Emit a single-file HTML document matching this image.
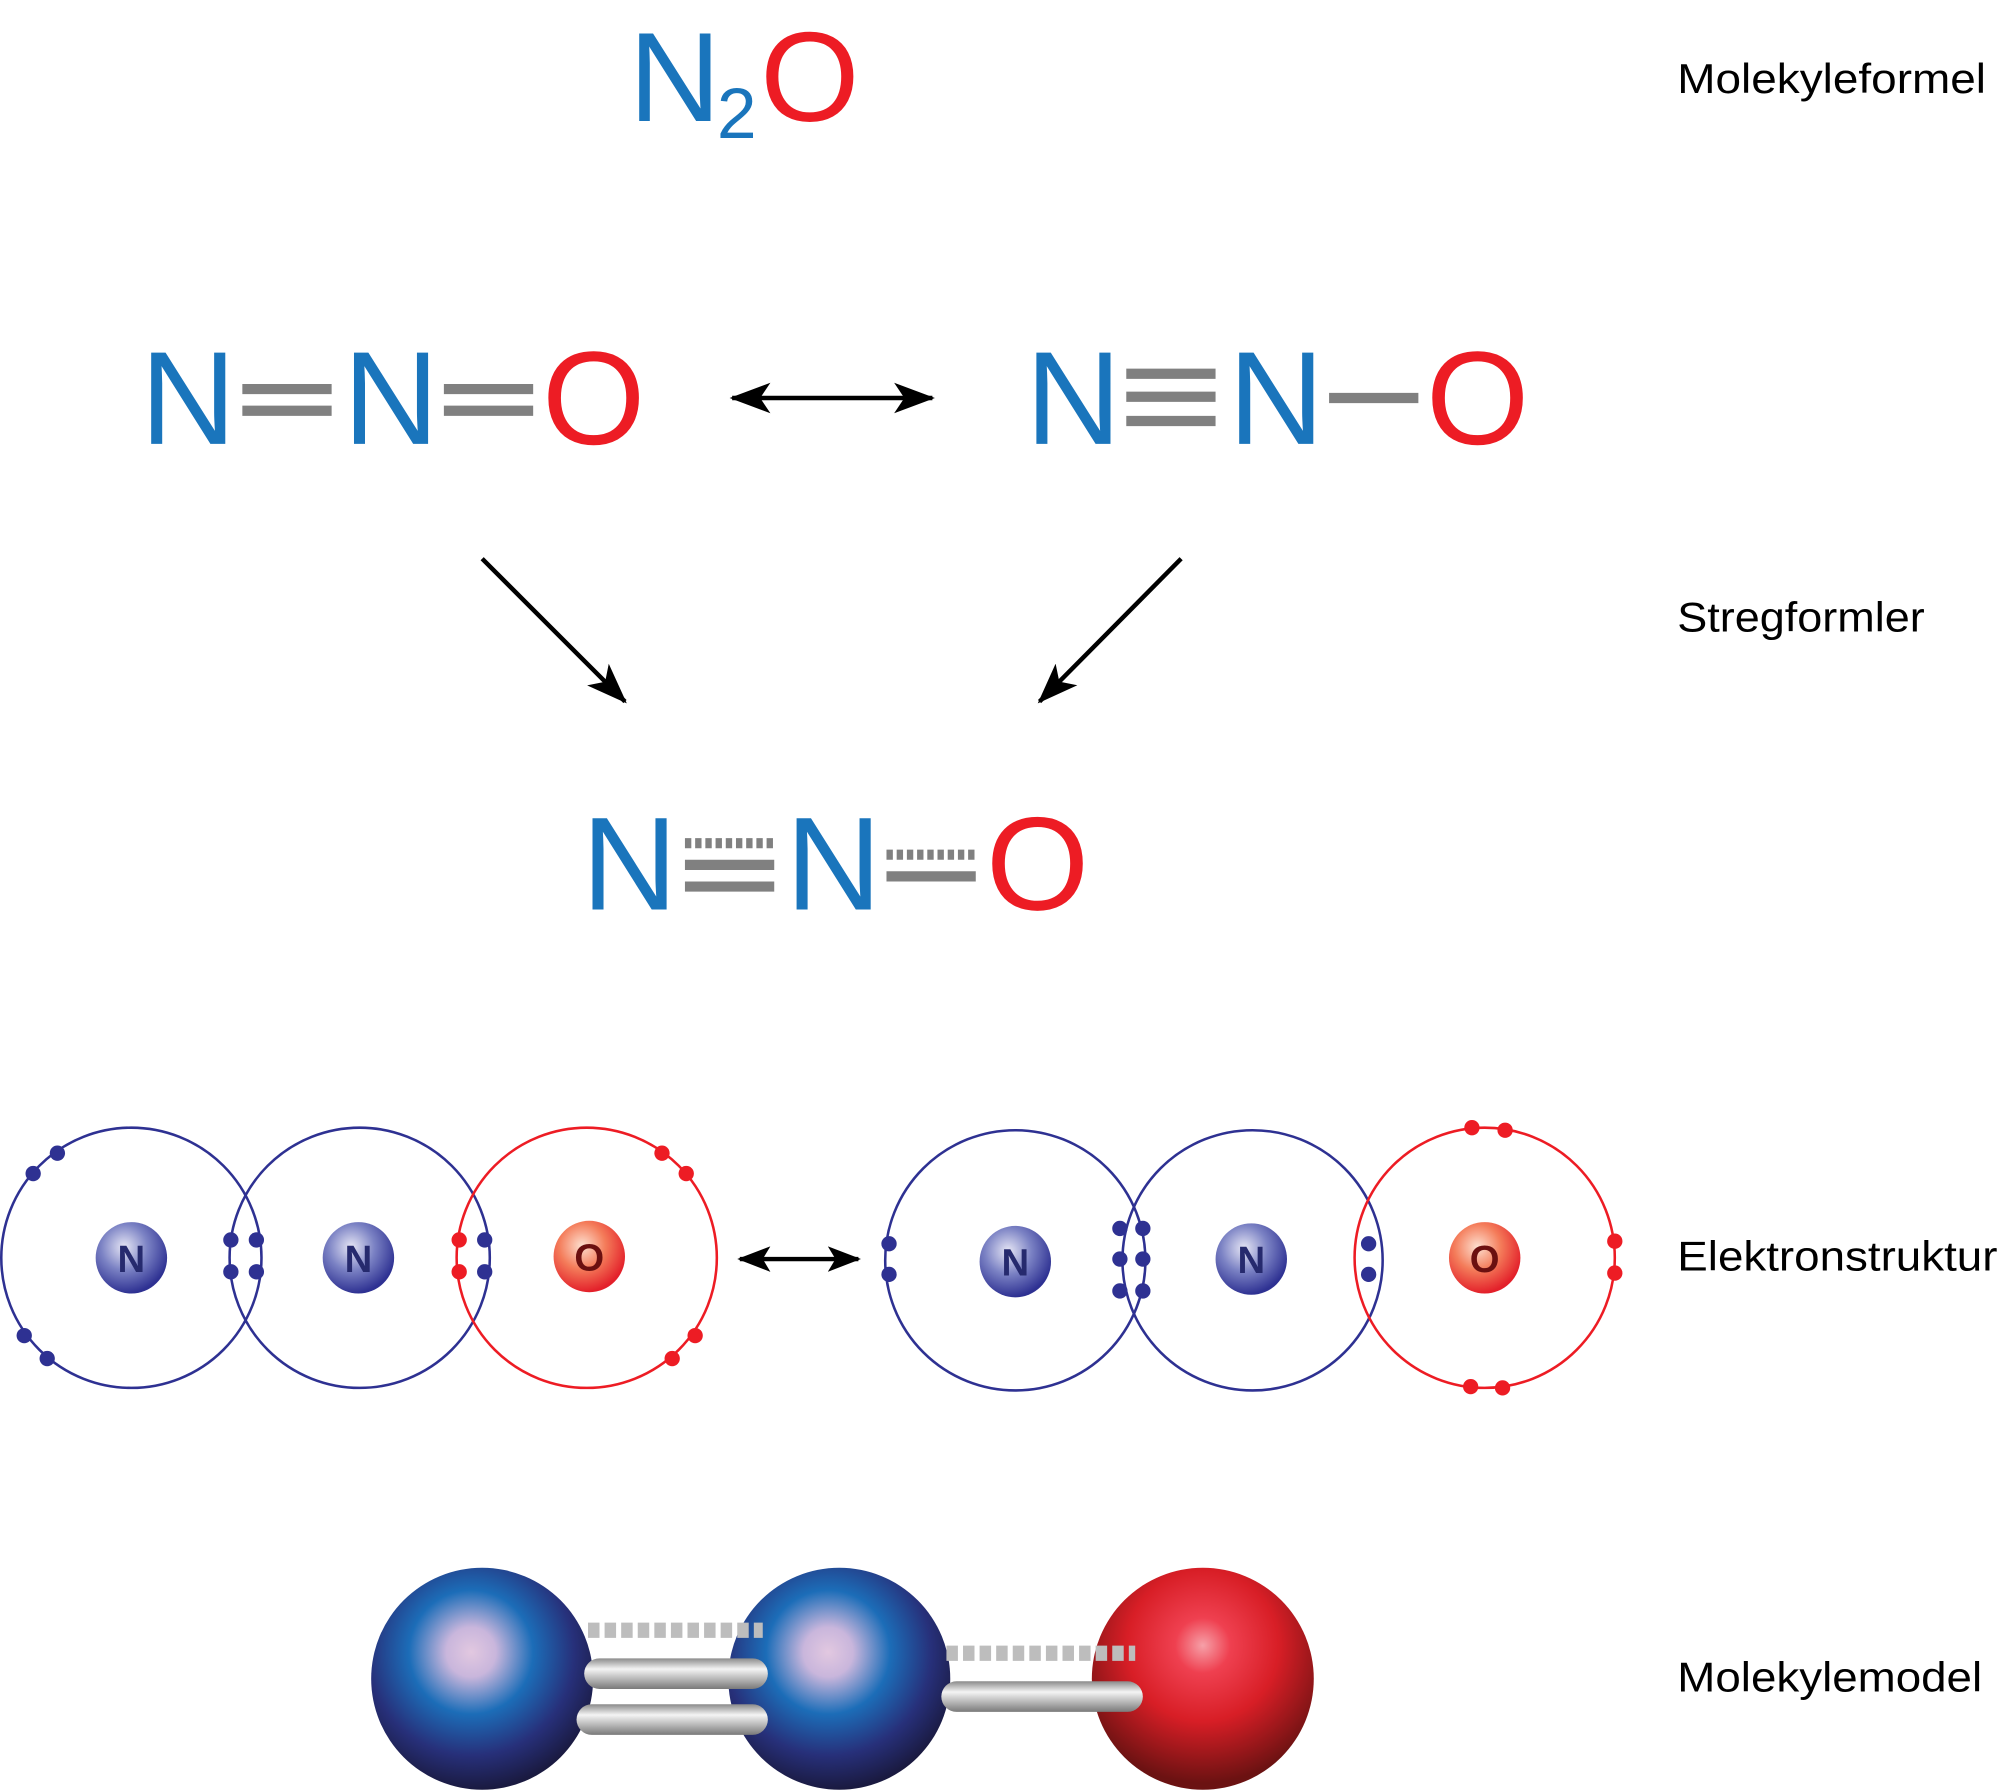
<!DOCTYPE html>
<html><head><meta charset="utf-8"><style>
html,body{margin:0;padding:0;background:#fff;}
svg{display:block;}
text{font-family:"Liberation Sans",sans-serif;}
</style></head><body>
<svg width="2000" height="1791" viewBox="0 0 1568 1404" preserveAspectRatio="none" xmlns="http://www.w3.org/2000/svg">
<defs>
<marker id="ah" viewBox="0 0 32 24" refX="30" refY="12" markerWidth="32" markerHeight="24" markerUnits="userSpaceOnUse" orient="auto-start-reverse"><path d="M0,0 L32,12 L0,24 L8,12z" fill="#000"/></marker>
<marker id="ahs" viewBox="0 0 26 20" refX="24" refY="10" markerWidth="26" markerHeight="20" markerUnits="userSpaceOnUse" orient="auto-start-reverse"><path d="M0,0 L26,10 L0,20 L6,10z" fill="#000"/></marker>
<radialGradient id="nb" cx="40%" cy="35%" r="65%"><stop offset="0" stop-color="#e6e6f5"/><stop offset="0.5" stop-color="#7b82c4"/><stop offset="1" stop-color="#2e3192"/></radialGradient>
<radialGradient id="ob" cx="40%" cy="35%" r="65%"><stop offset="0" stop-color="#fde0d0"/><stop offset="0.5" stop-color="#f47c5a"/><stop offset="1" stop-color="#e3202a"/></radialGradient>
<radialGradient id="bigN" cx="45%" cy="38%" r="62%"><stop offset="0" stop-color="#e2c8e0"/><stop offset="0.18" stop-color="#c9b6dc"/><stop offset="0.45" stop-color="#1c6db8"/><stop offset="0.75" stop-color="#27307a"/><stop offset="1" stop-color="#1a1a40"/></radialGradient>
<radialGradient id="bigO" cx="50%" cy="35%" r="62%"><stop offset="0" stop-color="#f6a0a8"/><stop offset="0.2" stop-color="#ef4050"/><stop offset="0.55" stop-color="#d81e26"/><stop offset="1" stop-color="#6b1212"/></radialGradient>
<linearGradient id="cyl" x1="0" y1="0" x2="0" y2="1"><stop offset="0" stop-color="#8a8a8a"/><stop offset="0.35" stop-color="#f4f4f4"/><stop offset="1" stop-color="#7a7a7a"/></linearGradient>
</defs>

<text x="493" y="95" font-size="100" fill="#1a75bc">N</text>
<text x="562" y="108" font-size="56" fill="#1a75bc">2</text>
<text x="596" y="95" font-size="100" fill="#ed1c24">O</text>

<g font-size="33" fill="#000">
<text x="1315" y="73" textLength="242" lengthAdjust="spacingAndGlyphs">Molekyleformel</text>
<text x="1315" y="495" textLength="194" lengthAdjust="spacingAndGlyphs">Stregformler</text>
<text x="1315" y="996" textLength="251" lengthAdjust="spacingAndGlyphs">Elektronstruktur</text>
<text x="1315" y="1326" textLength="239" lengthAdjust="spacingAndGlyphs">Molekylemodel</text>
</g>

<g font-size="104">
<text x="110" y="348" fill="#1a75bc">N</text>
<text x="269" y="348" fill="#1a75bc">N</text>
<text x="425" y="348" fill="#ed1c24">O</text>
<text x="804" y="348" fill="#1a75bc">N</text>
<text x="963" y="348" fill="#1a75bc">N</text>
<text x="1118" y="348" fill="#ed1c24">O</text>
<text x="456" y="713" fill="#1a75bc">N</text>
<text x="616" y="713" fill="#1a75bc">N</text>
<text x="773" y="713" fill="#ed1c24">O</text>
</g>
<g stroke="#808080" stroke-width="8">
<line x1="190" y1="305" x2="260" y2="305"/><line x1="190" y1="322" x2="260" y2="322"/>
<line x1="348" y1="305" x2="418" y2="305"/><line x1="348" y1="322" x2="418" y2="322"/>
<line x1="883" y1="293" x2="953" y2="293"/><line x1="883" y1="311" x2="953" y2="311"/><line x1="883" y1="330" x2="953" y2="330"/>
<line x1="1042" y1="312" x2="1112" y2="312"/>
<line x1="537" y1="661" x2="607" y2="661" stroke-dasharray="5,3"/>
<line x1="537" y1="678" x2="607" y2="678"/><line x1="537" y1="695" x2="607" y2="695"/>
<line x1="695" y1="670" x2="765" y2="670" stroke-dasharray="5,3"/>
<line x1="695" y1="687" x2="765" y2="687"/>
</g>
<g stroke="#000" stroke-width="3.5" fill="none">
<line x1="574" y1="312" x2="731" y2="312" marker-start="url(#ah)" marker-end="url(#ah)"/>
<line x1="378" y1="438" x2="490" y2="550" marker-end="url(#ah)"/>
<line x1="926" y1="438" x2="815" y2="550" marker-end="url(#ah)"/>
<line x1="580" y1="987" x2="673" y2="987" marker-start="url(#ahs)" marker-end="url(#ahs)"/>
</g>

<g fill="none" stroke-width="2">
<circle cx="103" cy="986" r="102" stroke="#2e3192"/>
<circle cx="282" cy="986" r="102" stroke="#2e3192"/>
<circle cx="460" cy="986" r="102" stroke="#ed1c24"/>
<circle cx="796" cy="988" r="102" stroke="#2e3192"/>
<circle cx="982" cy="988" r="102" stroke="#2e3192"/>
<circle cx="1164" cy="986" r="102" stroke="#ed1c24"/>
</g>
<circle cx="103" cy="986" r="28" fill="url(#nb)"/>
<circle cx="281" cy="986" r="28" fill="url(#nb)"/>
<circle cx="462" cy="985" r="28" fill="url(#ob)"/>
<circle cx="796" cy="989" r="28" fill="url(#nb)"/>
<circle cx="981" cy="987" r="28" fill="url(#nb)"/>
<circle cx="1164" cy="986" r="28" fill="url(#ob)"/>
<g font-size="30" font-weight="bold" text-anchor="middle">
<text x="103" y="997" fill="#262a6e">N</text>
<text x="281" y="997" fill="#262a6e">N</text>
<text x="462" y="996" fill="#6b1010">O</text>
<text x="796" y="1000" fill="#262a6e">N</text>
<text x="981" y="998" fill="#262a6e">N</text>
<text x="1164" y="997" fill="#6b1010">O</text>
</g>
<g fill="#2e3192">
<circle cx="26" cy="920" r="6"/><circle cx="45" cy="904" r="6"/><circle cx="19" cy="1047" r="6"/><circle cx="37" cy="1065" r="6"/>
<circle cx="181" cy="972" r="6"/><circle cx="201" cy="972" r="6"/><circle cx="181" cy="997" r="6"/><circle cx="201" cy="997" r="6"/>
<circle cx="380" cy="972" r="6"/><circle cx="380" cy="997" r="6"/>
<circle cx="697" cy="975" r="6"/><circle cx="697" cy="999" r="6"/>
<circle cx="878" cy="963" r="6"/><circle cx="896" cy="963" r="6"/><circle cx="878" cy="987" r="6"/><circle cx="896" cy="987" r="6"/><circle cx="878" cy="1012" r="6"/><circle cx="896" cy="1012" r="6"/>
<circle cx="1073" cy="975" r="6"/><circle cx="1073" cy="999" r="6"/>
</g>
<g fill="#ed1c24">
<circle cx="360" cy="972" r="6"/><circle cx="360" cy="997" r="6"/>
<circle cx="519" cy="904" r="6"/><circle cx="538" cy="920" r="6"/><circle cx="545" cy="1047" r="6"/><circle cx="527" cy="1065" r="6"/>
<circle cx="1154" cy="884" r="6"/><circle cx="1180" cy="886" r="6"/><circle cx="1266" cy="973" r="6"/><circle cx="1266" cy="998" r="6"/><circle cx="1153" cy="1087" r="6"/><circle cx="1178" cy="1088" r="6"/>
</g>

<circle cx="378" cy="1316" r="87" fill="url(#bigN)"/>
<circle cx="658" cy="1316" r="87" fill="url(#bigN)"/>
<circle cx="943" cy="1316" r="87" fill="url(#bigO)"/>
<g stroke="#bdbdbd" stroke-width="12" stroke-dasharray="9,4">
<line x1="461" y1="1278" x2="598" y2="1278"/>
<line x1="742" y1="1296" x2="890" y2="1296"/>
</g>
<rect x="458" y="1300" width="144" height="24" rx="12" fill="url(#cyl)"/>
<rect x="452" y="1336" width="150" height="24" rx="12" fill="url(#cyl)"/>
<rect x="738" y="1318" width="158" height="24" rx="12" fill="url(#cyl)"/>
</svg>
</body></html>
